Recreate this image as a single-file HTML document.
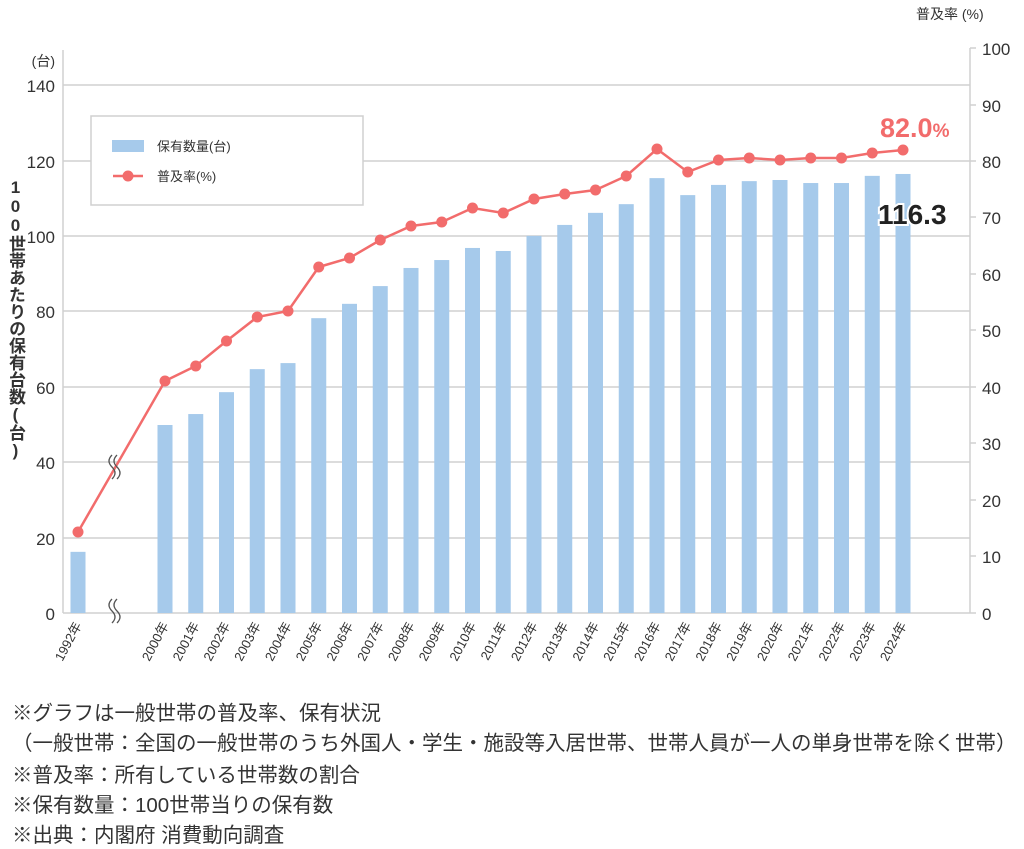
<!DOCTYPE html>
<html><head><meta charset="utf-8"><style>
body{margin:0;background:#fff;width:1024px;height:849px;overflow:hidden;font-family:"Liberation Sans","Noto Sans CJK JP",sans-serif;}
.vt{position:absolute;left:3px;top:178px;writing-mode:vertical-rl;text-orientation:upright;font-size:17px;font-weight:bold;color:#333;letter-spacing:0px;font-family:"Liberation Sans","Noto Sans CJK JP",sans-serif;}
.ft{position:absolute;left:12px;font-size:20.5px;color:#333;white-space:nowrap;}
</style></head><body>
<svg width="1024" height="849" style="position:absolute;left:0;top:0" font-family="Liberation Sans, Noto Sans CJK JP, sans-serif">
<g stroke="#d0d0d0" stroke-width="1.5">
<line x1="63" y1="85" x2="970" y2="85"/><line x1="63" y1="161" x2="970" y2="161"/>
<line x1="63" y1="236" x2="970" y2="236"/><line x1="63" y1="311" x2="970" y2="311"/>
<line x1="63" y1="387" x2="970" y2="387"/><line x1="63" y1="462" x2="970" y2="462"/>
<line x1="63" y1="538" x2="970" y2="538"/><line x1="63" y1="613" x2="970" y2="613"/>
<line x1="63" y1="50" x2="63" y2="613"/><line x1="970" y1="48" x2="970" y2="613"/>
<line x1="970" y1="48" x2="976" y2="48"/><line x1="970" y1="105" x2="976" y2="105"/><line x1="970" y1="161" x2="976" y2="161"/><line x1="970" y1="217" x2="976" y2="217"/><line x1="970" y1="274" x2="976" y2="274"/><line x1="970" y1="330" x2="976" y2="330"/><line x1="970" y1="387" x2="976" y2="387"/><line x1="970" y1="443" x2="976" y2="443"/><line x1="970" y1="500" x2="976" y2="500"/><line x1="970" y1="556" x2="976" y2="556"/><line x1="970" y1="613" x2="976" y2="613"/>
</g>
<g fill="#333" font-size="17" text-anchor="end">
<text x="55" y="92">140</text><text x="55" y="168">120</text><text x="55" y="243">100</text><text x="55" y="318">80</text><text x="55" y="394">60</text><text x="55" y="469">40</text><text x="55" y="545">20</text><text x="55" y="620">0</text>
<text x="55" y="66" font-size="14">(台)</text>
</g>
<g fill="#333" font-size="17">
<text x="982" y="55">100</text><text x="982" y="112">90</text><text x="982" y="168">80</text><text x="982" y="224">70</text><text x="982" y="281">60</text><text x="982" y="337">50</text><text x="982" y="394">40</text><text x="982" y="450">30</text><text x="982" y="507">20</text><text x="982" y="563">10</text><text x="982" y="620">0</text>
<text x="916" y="19" font-size="14">普及率 (%)</text>
</g>
<rect x="91" y="116" width="272" height="89" fill="#fff" stroke="#d0d0d0" stroke-width="1.5"/>
<rect x="112" y="140" width="32" height="12" fill="#a6caeb"/>
<text x="157" y="151" font-size="13" fill="#333">保有数量(台)</text>
<line x1="113" y1="176" x2="143" y2="176" stroke="#f26c6c" stroke-width="2.5"/><circle cx="128" cy="176" r="5.5" fill="#f26c6c"/>
<text x="157" y="181" font-size="13" fill="#333">普及率(%)</text>
<g fill="#a6caeb" id="bars"></g>
<polyline id="ln" fill="none" stroke="#f26c6c" stroke-width="2.5"/>
<g id="dots" fill="#f26c6c"></g>
<g id="xl" fill="#333" font-size="13"></g>
<g stroke="#555" stroke-width="1.3" fill="none">
<path d="M112 455 q-6 6 0 12 q6 6 0 12"/><path d="M117 455 q-6 6 0 12 q6 6 0 12"/>
<path d="M112 599 q-6 6 0 12 q6 6 0 12"/><path d="M117 599 q-6 6 0 12 q6 6 0 12"/>
</g>
<text x="880" y="137" font-size="27" fill="#f26c6c" font-weight="bold">82.0<tspan font-size="19">%</tspan></text>
<text x="878" y="224" font-size="28" fill="#222" font-weight="bold" stroke="#fff" stroke-width="4" paint-order="stroke">116.3</text>
</svg>
<div class="vt">100世帯あたりの保有台数(台)</div>
<div class="ft" style="top:696px">※グラフは一般世帯の普及率、保有状況</div>
<div class="ft" style="top:726px">（一般世帯：全国の一般世帯のうち外国人・学生・施設等入居世帯、世帯人員が一人の単身世帯を除く世帯）</div>
<div class="ft" style="top:758px">※普及率：所有している世帯数の割合</div>
<div class="ft" style="top:788px">※保有数量：100世帯当りの保有数</div>
<div class="ft" style="top:818px">※出典：内閣府 消費動向調査</div>
<script>
(function(){
var yrs=[1992];for(var y=2000;y<=2024;y++)yrs.push(y);
var bv=[16.2,49.8,52.7,58.5,64.6,66.2,78.1,81.9,86.6,91.4,93.5,96.7,95.9,99.9,102.8,106,108.3,115.2,110.7,113.4,114.4,114.7,113.9,113.9,115.8,116.3];
var ly=[532,381,366,341,317,311,267,258,240,226,222,208,213,199,194,190,176,149,172,160,158,160,158,158,153,150];
var ns="http://www.w3.org/2000/svg",pts=[];
function el(t,a,p){var e=document.createElementNS(ns,t);for(var k in a)e.setAttribute(k,a[k]);document.getElementById(p).appendChild(e);return e;}
for(var i=0;i<yrs.length;i++){
 var cx=i==0?78:165+(i-1)*30.75;
 var bt=613-bv[i]*3.775;
 el('rect',{x:cx-7.5,y:bt,width:15,height:613-bt},'bars');
 pts.push(cx+','+ly[i]);
 el('circle',{cx:cx,cy:ly[i],r:5.5},'dots');
 var t=el('text',{x:cx+4,y:625,'text-anchor':'end',transform:'rotate(-62 '+(cx+4)+' 625)'},'xl');t.textContent=yrs[i]+'年';
}
document.getElementById('ln').setAttribute('points',pts.join(' '));
})();
</script>
</body></html>
